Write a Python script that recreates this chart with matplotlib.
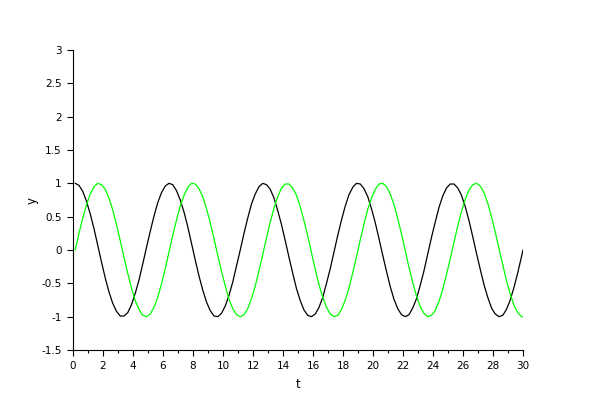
import numpy as np
import matplotlib
matplotlib.use("Agg")
from matplotlib import pyplot as plt

# sample times (read along the t axis)
t = np.append(np.arange(0.15, 29.91, 0.25), 30.0)

# black curve values
y_black = [1.00, 0.97, 0.88, 0.73, 0.54, 0.32, 0.07, -0.18, -0.42, -0.63,
           -0.80, -0.92, -0.99, -0.99, -0.94, -0.82, -0.65, -0.45, -0.21, 0.04,
           0.28, 0.51, 0.71, 0.86, 0.96, 1.00, 0.98, 0.89, 0.75, 0.57,
           0.35, 0.10, -0.15, -0.39, -0.60, -0.78, -0.91, -0.99, -1.00, -0.95,
           -0.84, -0.68, -0.48, -0.24, 0.00, 0.25, 0.48, 0.69, 0.84, 0.95,
           1.00, 0.98, 0.91, 0.78, 0.59, 0.38, 0.14, -0.11, -0.35, -0.58,
           -0.76, -0.90, -0.98, -1.00, -0.96, -0.86, -0.71, -0.50, -0.28, -0.03,
           0.22, 0.45, 0.66, 0.83, 0.94, 1.00, 0.99, 0.92, 0.80, 0.62,
           0.41, 0.17, -0.08, -0.32, -0.55, -0.74, -0.88, -0.97, -1.00, -0.97,
           -0.87, -0.73, -0.53, -0.31, -0.06, 0.19, 0.42, 0.64, 0.81, 0.93,
           0.99, 0.99, 0.93, 0.82, 0.65, 0.44, 0.20, -0.05, -0.29, -0.52,
           -0.71, -0.87, -0.96, -1.00, -0.98, -0.89, -0.75, -0.56, -0.34, -0.10,
           0.00]

# green curve values
y_green = [0.00, 0.25, 0.48, 0.68, 0.84, 0.95, 1.00, 0.98, 0.91, 0.78,
           0.60, 0.38, 0.14, -0.11, -0.35, -0.57, -0.76, -0.89, -0.98, -1.00,
           -0.96, -0.86, -0.71, -0.51, -0.28, -0.03, 0.22, 0.45, 0.66, 0.82,
           0.94, 1.00, 0.99, 0.92, 0.80, 0.62, 0.41, 0.17, -0.08, -0.32,
           -0.54, -0.74, -0.88, -0.97, -1.00, -0.97, -0.88, -0.73, -0.54, -0.31,
           -0.07, 0.18, 0.42, 0.63, 0.80, 0.93, 0.99, 0.99, 0.93, 0.82,
           0.65, 0.44, 0.21, -0.04, -0.29, -0.52, -0.71, -0.86, -0.96, -1.00,
           -0.98, -0.89, -0.75, -0.57, -0.34, -0.10, 0.15, 0.39, 0.61, 0.78,
           0.91, 0.99, 1.00, 0.95, 0.84, 0.68, 0.47, 0.24, -0.01, -0.26,
           -0.49, -0.69, -0.85, -0.95, -1.00, -0.98, -0.91, -0.77, -0.59, -0.37,
           -0.13, 0.12, 0.36, 0.58, 0.76, 0.90, 0.98, 1.00, 0.96, 0.86,
           0.70, 0.50, 0.27, 0.02, -0.22, -0.46, -0.66, -0.83, -0.94, -1.00,
           -1.00]

xticks = list(range(0, 31, 2))
yticks = [-1.5, -1, -0.5, 0, 0.5, 1, 1.5, 2, 2.5, 3]
ytick_labels = ["-1.5", "-1", "-0.5", "0", "0.5", "1", "1.5", "2", "2.5", "3"]

plt.rcParams['axes.unicode_minus'] = False
fig = plt.figure(figsize=(6, 4), dpi=100)
ax = fig.add_axes([73/600, 50/400, 450/600, 300/400])

ax.plot(t, y_black, color="black", lw=0.9)
ax.plot(t, y_green, color="#00ff00", lw=0.9)

ax.set_xlim(0, 30)
ax.set_ylim(-1.5, 3)
ax.spines['right'].set_visible(False)
ax.spines['top'].set_visible(False)
ax.set_xticks(xticks)
ax.set_xticklabels([str(v) for v in xticks])
ax.set_xticks(range(1, 30, 2), minor=True)
ax.set_yticks(yticks)
ax.set_yticklabels(ytick_labels)
ax.tick_params(axis='both', which='major', direction='out', length=4,
               width=0.8, labelsize=7.5, pad=4)
ax.tick_params(axis='x', which='minor', direction='out', length=2, width=0.8)
ax.set_xlabel('t', fontsize=8.5, labelpad=5)
ax.set_ylabel('y', fontsize=8.5, labelpad=2)

plt.savefig('out.png', dpi=100)
